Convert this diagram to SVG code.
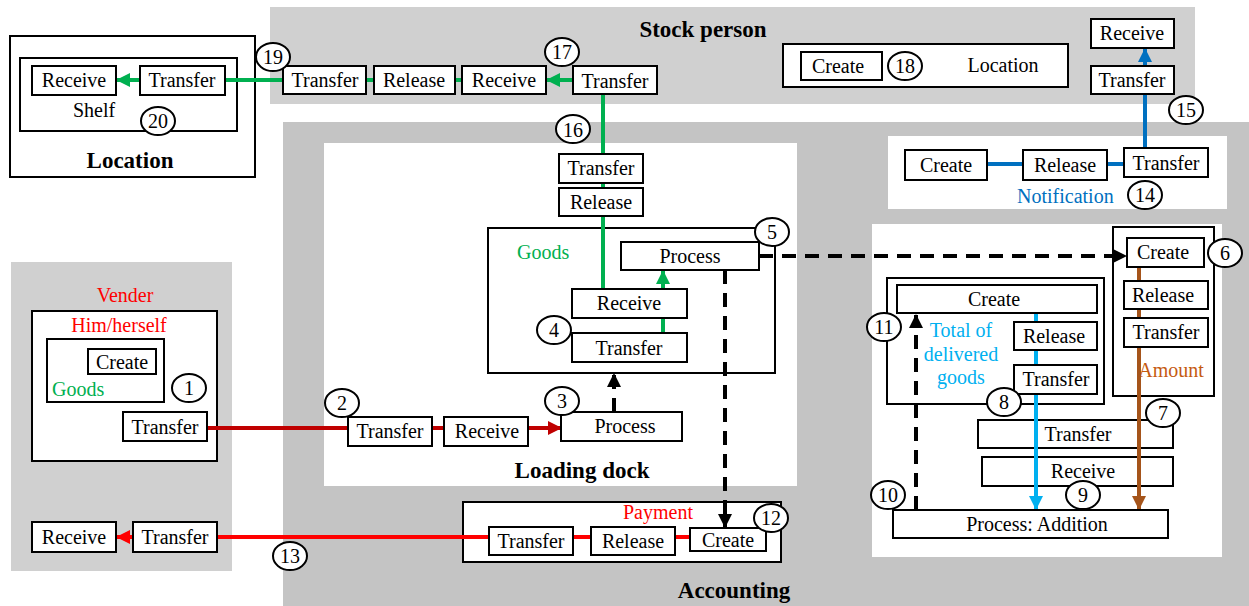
<svg xmlns="http://www.w3.org/2000/svg" width="1249" height="606" viewBox="0 0 1249 606" font-family="Liberation Serif, Times New Roman, Times, serif">
<style>
.b{fill:#fff;stroke:#000;stroke-width:2}
.c{fill:#fff;stroke:#000;stroke-width:2}
.t{font-size:20px;text-anchor:middle;fill:#000}
.h{font-size:23px;font-weight:bold;text-anchor:middle;fill:#000}
.l{fill:none;stroke-width:4}
.g{stroke:#00b050}.r{stroke:#c00000}.rr{stroke:#ff0000}.bl{stroke:#0070c0}.lb{stroke:#00b0f0}.br{stroke:#a5541a}
.d{stroke:#000;stroke-dasharray:14,9}
</style>
<defs>
<marker id="ag" markerUnits="userSpaceOnUse" markerWidth="14" markerHeight="14" refX="13" refY="7" orient="auto"><path d="M0,0 L14,7 L0,14z" fill="#00b050"/></marker>
<marker id="ar" markerUnits="userSpaceOnUse" markerWidth="14" markerHeight="14" refX="13" refY="7" orient="auto"><path d="M0,0 L14,7 L0,14z" fill="#c00000"/></marker>
<marker id="arr" markerUnits="userSpaceOnUse" markerWidth="14" markerHeight="14" refX="13" refY="7" orient="auto"><path d="M0,0 L14,7 L0,14z" fill="#ff0000"/></marker>
<marker id="abl" markerUnits="userSpaceOnUse" markerWidth="14" markerHeight="14" refX="13" refY="7" orient="auto"><path d="M0,0 L14,7 L0,14z" fill="#0070c0"/></marker>
<marker id="alb" markerUnits="userSpaceOnUse" markerWidth="14" markerHeight="14" refX="13" refY="7" orient="auto"><path d="M0,0 L14,7 L0,14z" fill="#00b0f0"/></marker>
<marker id="abr" markerUnits="userSpaceOnUse" markerWidth="14" markerHeight="14" refX="13" refY="7" orient="auto"><path d="M0,0 L14,7 L0,14z" fill="#a5541a"/></marker>
<marker id="ak" markerUnits="userSpaceOnUse" markerWidth="14" markerHeight="14" refX="13" refY="7" orient="auto"><path d="M0,0 L14,7 L0,14z" fill="#000"/></marker>
</defs>
<rect width="1249" height="606" fill="#fff"/>

<g id="areas">
<rect x="270" y="7" width="925" height="97" fill="#d0d0d0"/>
<rect x="283" y="122" width="966" height="484" fill="#c4c4c4"/>
<rect x="324" y="143" width="473" height="343" fill="#fff"/>
<rect x="888" y="136" width="339" height="73" fill="#fff"/>
<rect x="872" y="224" width="350" height="333" fill="#fff"/>
<rect x="11" y="262" width="221" height="309" fill="#d0d0d0"/>
<text class="h" x="703" y="37">Stock person</text>
<text class="h" x="582" y="478">Loading dock</text>
<text class="h" x="734" y="598">Accounting</text>
</g>

<g id="location">
<rect class="b" x="10" y="36" width="245" height="141"/>
<rect class="b" x="20" y="58" width="217" height="73"/>
<text class="t" x="94" y="117">Shelf</text>
<text class="h" x="130" y="168">Location</text>
</g>

<g id="vender">
<text class="t" x="125" y="302" style="fill:#ff0000">Vender</text>
<rect class="b" x="32" y="311" width="185" height="150"/>
<text class="t" x="119" y="332" style="fill:#ff0000">Him/herself</text>
<rect class="b" x="47" y="339" width="117" height="63"/>
<text class="t" x="52" y="396" style="fill:#00b050;text-anchor:start">Goods</text>
</g>

<g id="goods-box">
<rect class="b" x="488" y="228" width="287" height="145"/>
<text class="t" x="517" y="259" style="fill:#00b050;text-anchor:start">Goods</text>
</g>

<g id="payment-box">
<rect class="b" x="463" y="502" width="318" height="60"/>
<text class="t" x="658" y="519" style="fill:#ff0000">Payment</text>
</g>

<g id="stock-location">
<rect class="b" x="783" y="44" width="285" height="43"/>
<text class="t" x="1003" y="72">Location</text>
</g>

<g id="total-box">
<rect class="b" x="887" y="278" width="217" height="126"/>
<text class="t" x="961" y="337" style="fill:#00b0f0">Total of</text>
<text class="t" x="961" y="361" style="fill:#00b0f0">delivered</text>
<text class="t" x="961" y="384" style="fill:#00b0f0">goods</text>
</g>

<g id="amount-box">
<rect class="b" x="1113" y="227" width="101" height="169"/>
<text class="t" x="1171" y="377" style="fill:#c55a11">Amount</text>
</g>

<g id="notification">
<text class="t" x="1017" y="203" style="fill:#0070c0;text-anchor:start">Notification</text>
</g>

<g id="wide-boxes">
<g id="n7-transfer"><rect class="b" x="978" y="420" width="195" height="28"/><text class="t" x="1078" y="441">Transfer</text></g>
<g id="n9-receive"><rect class="b" x="982" y="457" width="191" height="29"/><text class="t" x="1083" y="478">Receive</text></g>
</g>

<g id="connectors">
<path class="l g" d="M225,80 H283"/>
<path class="l g" d="M140,80 H117" marker-end="url(#ag)"/>
<path class="l g" d="M366,80 H374 M455,80 H462"/>
<path class="l g" d="M573,80 H547" marker-end="url(#ag)"/>
<path class="l g" d="M603,94 V289"/>
<path class="l g" d="M663,333 V271" marker-end="url(#ag)"/>
<path class="l r" d="M207,428 H348 M432,428 H444"/>
<path class="l r" d="M528,428 H561" marker-end="url(#ar)"/>
<path class="l rr" d="M217,537 H489 M573,537 H591 M675,537 H690"/>
<path class="l rr" d="M133,537 H117" marker-end="url(#arr)"/>
<path class="l bl" d="M987,164 H1023 M1107,164 H1124 M1145,148 V94"/>
<path class="l bl" d="M1145,66 V49" marker-end="url(#abl)"/>
<path class="l lb" d="M1036,313 V509" marker-end="url(#alb)"/>
<path class="l br" d="M1139,267 V509" marker-end="url(#abr)"/>
<path class="l d" d="M759,256 H1126" marker-end="url(#ak)"/>
<path class="l d" d="M725,270 V527" marker-end="url(#ak)"/>
<path class="l d" d="M614,412 V374" marker-end="url(#ak)"/>
<path class="l d" d="M916,510 V315" marker-end="url(#ak)"/>
</g>

<g id="n-shelf-receive"><rect class="b" x="32" y="66" width="84" height="29"/><text class="t" x="74" y="87">Receive</text></g>
<g id="n-shelf-transfer"><rect class="b" x="140" y="66" width="85" height="29"/><text class="t" x="182" y="87">Transfer</text></g>
<g id="n-stock-transfer19"><rect class="b" x="283" y="66" width="83" height="28"/><text class="t" x="325" y="87">Transfer</text></g>
<g id="n-stock-release"><rect class="b" x="374" y="66" width="81" height="28"/><text class="t" x="414" y="87">Release</text></g>
<g id="n-stock-receive"><rect class="b" x="462" y="66" width="84" height="28"/><text class="t" x="504" y="87">Receive</text></g>
<g id="n-stock-transfer17"><rect class="b" x="573" y="66" width="84" height="28"/><text class="t" x="615" y="88">Transfer</text></g>
<g id="n-stock-create"><rect class="b" x="801" y="52" width="81" height="28"/><text class="t" x="838" y="73">Create</text></g>
<g id="n-top-receive"><rect class="b" x="1091" y="19" width="83" height="29"/><text class="t" x="1132" y="40">Receive</text></g>
<g id="n-top-transfer"><rect class="b" x="1091" y="66" width="83" height="28"/><text class="t" x="1132" y="87">Transfer</text></g>
<g id="n-not-create"><rect class="b" x="905" y="150" width="82" height="30"/><text class="t" x="946" y="172">Create</text></g>
<g id="n-not-release"><rect class="b" x="1023" y="150" width="84" height="30"/><text class="t" x="1065" y="172">Release</text></g>
<g id="n-not-transfer"><rect class="b" x="1124" y="148" width="84" height="29"/><text class="t" x="1166" y="170">Transfer</text></g>
<g id="n16-transfer"><rect class="b" x="559" y="154" width="84" height="29"/><text class="t" x="601" y="175">Transfer</text></g>
<g id="n16-release"><rect class="b" x="559" y="188" width="84" height="28"/><text class="t" x="601" y="209">Release</text></g>
<g id="n5-process"><rect class="b" x="621" y="242" width="138" height="28"/><text class="t" x="690" y="263">Process</text></g>
<g id="n4-receive"><rect class="b" x="572" y="289" width="115" height="29"/><text class="t" x="629" y="310">Receive</text></g>
<g id="n4-transfer"><rect class="b" x="572" y="333" width="115" height="29"/><text class="t" x="629" y="355">Transfer</text></g>
<g id="n3-process"><rect class="b" x="561" y="412" width="121" height="29"/><text class="t" x="625" y="433">Process</text></g>
<g id="n2-transfer"><rect class="b" x="348" y="417" width="84" height="29"/><text class="t" x="390" y="438">Transfer</text></g>
<g id="n2-receive"><rect class="b" x="444" y="417" width="84" height="29"/><text class="t" x="487" y="438">Receive</text></g>
<g id="n1-create"><rect class="b" x="88" y="349" width="68" height="25"/><text class="t" x="122" y="369">Create</text></g>
<g id="n1-transfer"><rect class="b" x="123" y="412" width="84" height="29"/><text class="t" x="165" y="434">Transfer</text></g>
<g id="n13-receive"><rect class="b" x="32" y="522" width="84" height="30"/><text class="t" x="74" y="544">Receive</text></g>
<g id="n13-transfer"><rect class="b" x="133" y="522" width="84" height="30"/><text class="t" x="175" y="544">Transfer</text></g>
<g id="n12-transfer"><rect class="b" x="489" y="527" width="84" height="28"/><text class="t" x="531" y="548">Transfer</text></g>
<g id="n12-release"><rect class="b" x="591" y="527" width="84" height="28"/><text class="t" x="633" y="548">Release</text></g>
<g id="n12-create"><rect class="b" x="690" y="528" width="76" height="23"/><text class="t" x="728" y="547">Create</text></g>
<g id="n6-create"><rect class="b" x="1127" y="238" width="77" height="29"/><text class="t" x="1163" y="259">Create</text></g>
<g id="n6-release"><rect class="b" x="1124" y="281" width="84" height="28"/><text class="t" x="1163" y="302">Release</text></g>
<g id="n6-transfer"><rect class="b" x="1124" y="318" width="84" height="29"/><text class="t" x="1166" y="339">Transfer</text></g>
<g id="n11-create"><rect class="b" x="897" y="285" width="200" height="28"/><text class="t" x="994" y="306">Create</text></g>
<g id="n8-release"><rect class="b" x="1014" y="322" width="83" height="28"/><text class="t" x="1054" y="343">Release</text></g>
<g id="n8-transfer"><rect class="b" x="1014" y="365" width="83" height="29"/><text class="t" x="1056" y="386">Transfer</text></g>
<g id="n10-process"><rect class="b" x="893" y="510" width="275" height="28"/><text class="t" x="1037" y="531">Process: Addition</text></g>

<g id="numbers">
<g><ellipse class="c" cx="189" cy="388" rx="17" ry="14"/><text class="t" x="189" y="395">1</text></g>
<g><ellipse class="c" cx="342" cy="403" rx="17" ry="14"/><text class="t" x="342" y="410">2</text></g>
<g><ellipse class="c" cx="562" cy="401" rx="17" ry="14"/><text class="t" x="562" y="408">3</text></g>
<g><ellipse class="c" cx="554" cy="330" rx="17" ry="14"/><text class="t" x="554" y="337">4</text></g>
<g><ellipse class="c" cx="772" cy="232" rx="17" ry="14"/><text class="t" x="772" y="239">5</text></g>
<g><ellipse class="c" cx="1225" cy="253" rx="17" ry="14"/><text class="t" x="1225" y="260">6</text></g>
<g><ellipse class="c" cx="1163" cy="413" rx="17" ry="14"/><text class="t" x="1163" y="420">7</text></g>
<g><ellipse class="c" cx="1004" cy="402" rx="17" ry="14"/><text class="t" x="1004" y="409">8</text></g>
<g><ellipse class="c" cx="1083" cy="495" rx="17" ry="14"/><text class="t" x="1083" y="502">9</text></g>
<g><ellipse class="c" cx="888" cy="495" rx="17" ry="14"/><text class="t" x="888" y="502">10</text></g>
<g><ellipse class="c" cx="884" cy="327" rx="17" ry="14"/><text class="t" x="884" y="334">11</text></g>
<g><ellipse class="c" cx="771" cy="518" rx="17" ry="14"/><text class="t" x="771" y="525">12</text></g>
<g><ellipse class="c" cx="290" cy="556" rx="17" ry="14"/><text class="t" x="290" y="563">13</text></g>
<g><ellipse class="c" cx="1145" cy="195" rx="17" ry="14"/><text class="t" x="1145" y="202">14</text></g>
<g><ellipse class="c" cx="1186" cy="110" rx="17" ry="14"/><text class="t" x="1186" y="117">15</text></g>
<g><ellipse class="c" cx="573" cy="129" rx="17" ry="14"/><text class="t" x="573" y="137">16</text></g>
<g><ellipse class="c" cx="562" cy="52" rx="17" ry="14"/><text class="t" x="562" y="59">17</text></g>
<g><ellipse class="c" cx="905" cy="66" rx="17" ry="14"/><text class="t" x="905" y="73">18</text></g>
<g><ellipse class="c" cx="273" cy="57" rx="17" ry="14"/><text class="t" x="273" y="64">19</text></g>
<g><ellipse class="c" cx="158" cy="121" rx="17" ry="14"/><text class="t" x="158" y="128">20</text></g>
</g>
</svg>
